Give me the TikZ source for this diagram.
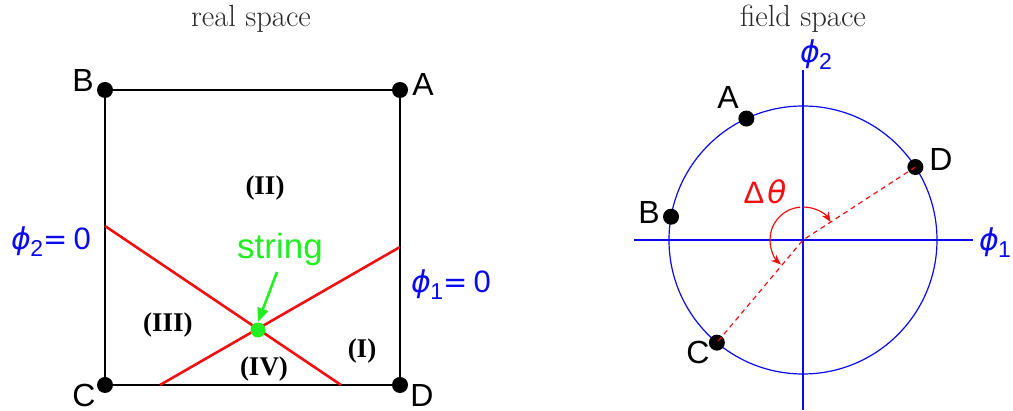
\documentclass[tikz,border=0pt]{standalone}
\usepackage{fontspec}
\setsansfont{Liberation Sans}
\newfontfamily\grkfont{DejaVu Sans}
\newfontfamily\regfont{Liberation Serif}
\definecolor{fieldblue}{HTML}{0A0AF0}
\definecolor{wallred}{HTML}{F01010}
\definecolor{strgreen}{HTML}{22EE22}
\definecolor{titlegray}{HTML}{2A2A2A}
\usetikzlibrary{arrows.meta,positioning,calc}
\newcommand{\phisub}[1]{{\grkfont\itshape\fontsize{15}{15}\selectfont ϕ}\kern-0.3pt\raisebox{-0.45ex}{\fontsize{11.5}{11}\selectfont #1}}
\newcommand{\phizero}[1]{\phisub{#1}{\grkfont=}\kern3pt{\fontsize{15.5}{15}\selectfont 0}}

\begin{document}
\begin{tikzpicture}[x=0.5pt,y=0.5pt,
    dot/.style={circle,fill=black,inner sep=0pt,minimum size=8pt},
    lbl/.style={font=\sffamily\fontsize{16}{16}\selectfont,inner sep=0pt},
    fieldlbl/.style={text=fieldblue,font=\sffamily\fontsize{14.5}{15}\selectfont,inner sep=0pt},
    region/.style={font=\regfont\bfseries\fontsize{13.5}{15}\selectfont,inner sep=0pt},
    title/.style={text=titlegray,font=\fontsize{15.3}{17}\selectfont,inner sep=0pt}]
  \useasboundingbox (0,0) rectangle (1013,411);

  % real space (left)
  \node[title] (rtitle) at (251,392) {real space};
  \node[dot] (B) at (105,321) {};
  \node[dot] (A) at (400,321) {};
  \node[dot] (C) at (105,26) {};
  \node[dot] (D) at (400,26) {};
  \draw[line width=1.3pt] (B.center) -- (A.center) -- (D.center) -- (C.center) -- cycle;
  \node[lbl] (labB) at (83,330) {B};
  \node[lbl] (labA) at (423,326) {A};
  \node[lbl] (labC) at (84,16) {C};
  \node[lbl] (labD) at (422,16) {D};
  \coordinate (w1a) at (105,185);
  \coordinate (w1b) at (341,26);
  \coordinate (w2a) at (160,26);
  \coordinate (w2b) at (400,164);
  \draw[wallred,line width=1.3pt] (w1a) -- (w1b);
  \draw[wallred,line width=1.3pt] (w2a) -- (w2b);
  \node[circle,fill=strgreen,inner sep=0pt,minimum size=7.5pt] (str) at (258,81) {};
  \node[text=strgreen,font=\sffamily\fontsize{17.5}{17}\selectfont,inner sep=0pt] (strlab) at (280,162) {string};
  \draw[strgreen,line width=1.3pt,-{Triangle[length=7pt,width=5.5pt]}] (277,139) -- (str.north);
  \node[region] (rII) at (265,223) {(II)};
  \node[region] (rIII) at (168,86) {(III)};
  \node[region] (rIV) at (264,42) {(IV)};
  \node[region] (rI) at (362,60) {(I)};
  \node[fieldlbl] (wall2) at (51,169) {\phizero{2}};
  \node[fieldlbl] (wall1) at (451,126) {\phizero{1}};

  % field space (right)
  \node[title] (ftitle) at (803,392) {field space};
  \coordinate (O) at (803,171);
  \draw[fieldblue,line width=0.6pt] (O) circle (134);
  \draw[fieldblue,line width=0.7pt] (634,171) -- (973,171);
  \draw[fieldblue,line width=0.7pt] (803,341) -- (803,1);
  \node[fieldlbl] (ax1) at (995,168) {\phisub{1}};
  \node[fieldlbl] (ax2) at (816,356) {\phisub{2}};
  \node[dot] (fA) at ($(O)+(115:134)$) {};
  \node[dot] (fB) at ($(O)+(170:134)$) {};
  \node[dot] (fC) at ($(O)+(230:134)$) {};
  \node[dot] (fD) at ($(O)+(33:134)$) {};
  \node[lbl] (flA) at (728,313) {A};
  \node[lbl] (flB) at (649,199) {B};
  \node[lbl] (flC) at (698,59) {C};
  \node[lbl] (flD) at (941,252) {D};
  \draw[wallred,line width=0.6pt,dash pattern=on 2.5pt off 2pt] (fD.center) -- (O) -- (fC.center);
  \draw[wallred,line width=0.6pt,-{Stealth[length=5pt,width=4pt]}] ($(O)+(90:33)$) arc (90:33:33);
  \draw[wallred,line width=0.6pt,-{Stealth[length=5pt,width=4pt]}] ($(O)+(95:33)$) arc (95:228:33);
  \node[text=wallred,font=\sffamily\fontsize{15.5}{15}\selectfont,inner sep=0pt] (dth) at (765,219) {Δ\kern1.5pt{\grkfont\itshape θ}};
\end{tikzpicture}
\end{document}
